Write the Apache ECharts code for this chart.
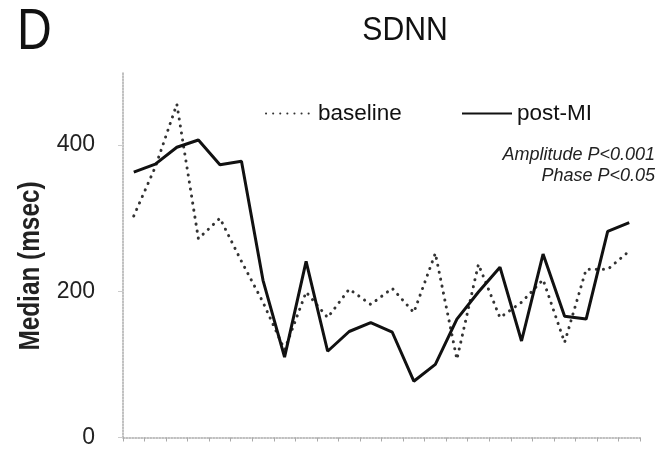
<!DOCTYPE html>
<html>
<head>
<meta charset="utf-8">
<script src="https://cdn.jsdelivr.net/npm/echarts@6/dist/echarts.min.js"></script>
<style>
  html, body { margin: 0; padding: 0; background: #fff; }
  #chart { width: 660px; height: 449px; }
</style>
</head>
<body>
<div id="chart"></div>
<script>
// 24 sampling points over the recording day
const categories = Array.from({ length: 24 }, (_, i) => String(i + 1));

// SDNN medians (msec)
const baseline = [303, 370, 456, 272, 300, 241, 185, 120, 199, 164, 203, 182,
                  204, 171, 252, 107, 237, 164, 185, 216, 130, 230, 230, 255];
const postMI   = [363, 374, 397, 407, 373, 378, 215, 110, 241, 118, 145, 157,
                  144, 77, 100, 162, 199, 233, 132, 251, 166, 162, 282, 294];

const yTicks = [0, 200, 400];

const FONT = '"Liberation Sans", Arial, sans-serif';

const chart = echarts.init(document.getElementById('chart'));
chart.setOption({
  backgroundColor: '#ffffff',
  animation: false,
  legend: [
    { data: ['baseline'], left: 260, top: 97, itemWidth: 47, itemHeight: 14,
      itemStyle: { opacity: 0 },
      textStyle: { fontFamily: FONT, fontSize: 22.5, color: '#111' } },
    { data: ['post-MI'], left: 456, top: 97, itemWidth: 50, itemHeight: 14,
      itemStyle: { opacity: 0 },
      textStyle: { fontFamily: FONT, fontSize: 22.5, color: '#111' } }
  ],
  graphic: [
    // panel letter and title, set in a condensed width
    { type: 'text', x: 17, y: 4, scaleX: 0.83,
      style: { text: 'D', fontFamily: FONT, fontSize: 58, fill: '#111',
               align: 'left', verticalAlign: 'top' } },
    { type: 'text', x: 405, y: 14, scaleX: 0.9,
      style: { text: 'SDNN', fontFamily: FONT, fontSize: 33.5, fill: '#111',
               align: 'center', verticalAlign: 'top' } },
    // y-axis title
    { type: 'text', x: 31, y: 266, rotation: Math.PI / 2, scaleX: 0.84,
      style: { text: 'Median (msec)', fontFamily: FONT, fontSize: 29, fontWeight: 'bold',
               fill: '#222', align: 'center', verticalAlign: 'middle' } },
    // statistics note
    { type: 'text', x: 655, y: 146,
      style: { text: 'Amplitude P<0.001', fontFamily: FONT, fontSize: 18,
               fontStyle: 'italic', fill: '#222', align: 'right', verticalAlign: 'top' } },
    { type: 'text', x: 655, y: 167,
      style: { text: 'Phase P<0.05', fontFamily: FONT, fontSize: 18,
               fontStyle: 'italic', fill: '#222', align: 'right', verticalAlign: 'top' } }
  ],
  grid: { left: 123, right: 20, top: 72, bottom: 11, containLabel: false },
  xAxis: {
    type: 'category',
    data: categories,
    boundaryGap: true,
    axisLine: { lineStyle: { color: '#aaa', type: 'dotted', width: 1.5 } },
    axisTick: { show: true, interval: 0, length: 4, lineStyle: { color: '#aaa' } },
    axisLabel: { show: false },
    splitLine: { show: false }
  },
  yAxis: {
    type: 'value',
    min: 0, max: 500, interval: 200,
    axisLine: { show: true, lineStyle: { color: '#aaa', type: 'dotted', width: 1.5 } },
    axisTick: { show: true, length: 5, lineStyle: { color: '#ccc' } },
    axisLabel: {
      fontFamily: FONT, fontSize: 23, color: '#222', margin: 28,
      showMaxLabel: false,
      formatter: v => (yTicks.includes(v) ? String(v) : '')
    },
    splitLine: { show: false }
  },
  series: [
    {
      name: 'baseline', type: 'line', data: baseline,
      symbol: 'none', smooth: false,
      lineStyle: { color: '#333', width: 3, type: [0.1, 7], cap: 'round' },
      itemStyle: { color: '#333' }
    },
    {
      name: 'post-MI', type: 'line', data: postMI,
      symbol: 'none', smooth: false,
      lineStyle: { color: '#111', width: 3 },
      itemStyle: { color: '#111' }
    }
  ]
});
</script>
</body>
</html>
